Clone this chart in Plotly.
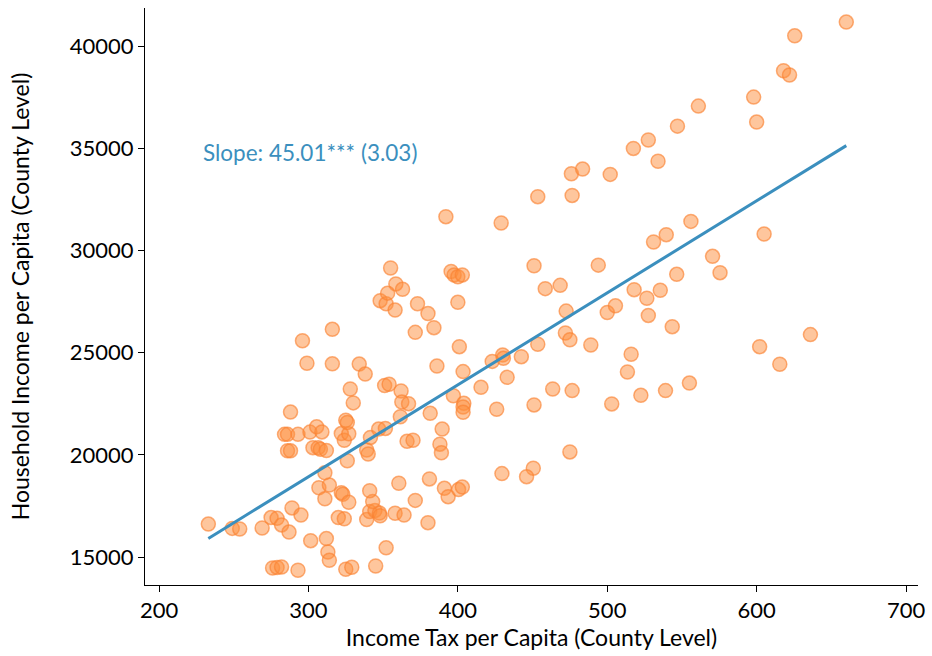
import plotly.graph_objects as go

# Income tax per capita (county level)
income_tax = [
    233, 249, 254, 269, 275, 279, 282, 287, 289, 295,
    276, 279, 282, 293, 288, 284, 286, 293, 286, 288,
    296, 299, 301, 305.5, 309, 303, 306.5, 308, 312, 311,
    307, 314, 311, 301.5, 312, 313, 314, 325, 329, 316,
    316, 322, 324, 327, 325, 326, 328, 330, 326, 322,
    323, 327, 320, 324, 334, 338, 339, 341, 344.5, 347.5,
    348, 343, 341, 352, 345, 341.5, 339, 340, 347, 351.5,
    351, 354, 358, 364, 360.5, 348, 352, 358, 355, 358.5,
    353, 363, 362, 362.5, 367, 361.5, 366, 370, 371.5, 380,
    381, 391, 393.5, 381.5, 389.5, 388, 389, 373, 380, 384,
    371.5, 386, 392, 395.5, 397.5, 400, 403, 400, 401, 403.5,
    397, 404, 403.5, 403.5, 400.5, 403, 429, 453.5, 476.5, 476,
    483.5, 502, 451, 458.5, 468.5, 472.5, 494, 500, 505.5, 472,
    475, 489, 453.5, 442.5, 430, 430.5, 423, 433, 415.5, 426,
    451, 463.5, 476.5, 503, 475, 450.5, 446, 429.5, 516, 513.5,
    518, 526.5, 535.5, 527.5, 543.5, 546.5, 531, 539.5, 556, 570.5,
    575.5, 605, 636, 602, 615.5, 555, 539, 522.5, 534, 517.5,
    527.5, 547, 561, 598, 600, 618, 622, 625.5, 660,
]

# Household income per capita (county level)
household_income = [
    16610, 16400, 16370, 16420, 16930, 16890, 16570, 16220, 17400, 17050,
    14460, 14490, 14510, 14350, 22090, 21000, 21000, 21000, 20200, 20200,
    25580, 24480, 21110, 21370, 21120, 20350, 20350, 20270, 20210, 19120,
    18390, 18520, 17850, 15800, 15900, 15240, 14840, 14400, 14500, 26140,
    24450, 21040, 20710, 21030, 21690, 21580, 23220, 22540, 19710, 18140,
    18070, 17680, 16930, 16870, 24440, 23950, 16830, 17220, 17270, 17150,
    17020, 17710, 18240, 15450, 14560, 20850, 20230, 20040, 21260, 21290,
    23390, 23450, 17140, 17050, 18610, 27540, 27390, 27080, 29140, 28360,
    27910, 28100, 23120, 22580, 22500, 21860, 20660, 20710, 17770, 16680,
    18820, 18360, 17950, 22030, 21260, 20520, 20100, 27390, 26910, 26220,
    25990, 24340, 31650, 28970, 28800, 28710, 28800, 27460, 25290, 24070,
    22890, 22520, 22340, 22080, 18300, 18420, 31340, 32630, 32690, 33750,
    33980, 33720, 29250, 28130, 28290, 27030, 29280, 26960, 27290, 25960,
    25630, 25370, 25410, 24800, 24880, 24720, 24570, 23790, 23300, 22230,
    22440, 23220, 23140, 22490, 20140, 19340, 18930, 19080, 24920, 24050,
    28080, 27660, 28050, 26820, 26270, 28830, 30410, 30770, 31420, 29710,
    28910, 30800, 25880, 25290, 24430, 23510, 23140, 22910, 34360, 34990,
    35400, 36080, 37060, 37500, 36280, 38790, 38580, 40500, 41170,
]

# Fitted regression (reported estimate)
SLOPE = 45.01
SLOPE_SE = 3.03
INTERCEPT = 5420
SLOPE_LABEL = f"Slope: {SLOPE:.2f}*** ({SLOPE_SE:.2f})"

x_tick_vals = [200, 300, 400, 500, 600, 700]
x_tick_text = ["200", "300", "400", "500", "600", "700"]
y_tick_vals = [15000, 20000, 25000, 30000, 35000, 40000]
y_tick_text = ["15000", "20000", "25000", "30000", "35000", "40000"]

FONT = "Lato, 'Open Sans', sans-serif"
ORANGE_FILL = "rgba(253,141,60,0.5)"
ORANGE_EDGE = "rgba(250,130,50,0.65)"
BLUE = "#3b8fbe"

x_min, x_max = min(income_tax), max(income_tax)
fit_x = [x_min, x_max]
fit_y = [INTERCEPT + SLOPE * v for v in fit_x]

fig = go.Figure()
fig.add_trace(go.Scatter(
    x=income_tax, y=household_income, mode="markers",
    marker=dict(size=14, color=ORANGE_FILL,
                line=dict(color=ORANGE_EDGE, width=1.5)),
    hoverinfo="x+y", showlegend=False,
))
fig.add_trace(go.Scatter(
    x=fit_x, y=fit_y, mode="lines",
    line=dict(color=BLUE, width=3), showlegend=False,
))

fig.add_annotation(
    x=228, y=34800, xref="x", yref="y", text=SLOPE_LABEL,
    showarrow=False, xanchor="left", yanchor="middle",
    font=dict(family=FONT, size=22.5, color=BLUE),
)

fig.update_layout(
    width=932, height=656,
    margin=dict(l=145, r=14, t=8, b=71),
    paper_bgcolor="white", plot_bgcolor="white",
    font=dict(family=FONT, size=22, color="black"),
)
fig.update_xaxes(
    range=[190.6, 708], tickvals=x_tick_vals, ticktext=x_tick_text,
    showline=True, linecolor="black", linewidth=1,
    ticks="outside", ticklen=6, tickcolor="black",
    showgrid=False, zeroline=False, automargin=False,
    tickfont=dict(family=FONT, size=22),
    title=dict(text="Income Tax per Capita (County Level)",
               font=dict(family=FONT, size=23), standoff=2),
)
fig.update_yaxes(
    range=[13630, 41860], tickvals=y_tick_vals, ticktext=y_tick_text,
    showline=True, linecolor="black", linewidth=1,
    ticks="outside", ticklen=6, tickcolor="black",
    showgrid=False, zeroline=False, automargin=False,
    tickfont=dict(family=FONT, size=22),
    title=dict(text="Household Income per Capita (County Level)",
               font=dict(family=FONT, size=23), standoff=33),
)

fig.write_html(
    "out.html",
    config={"displayModeBar": False},
    post_script="document.body.style.margin='0px';",
)
